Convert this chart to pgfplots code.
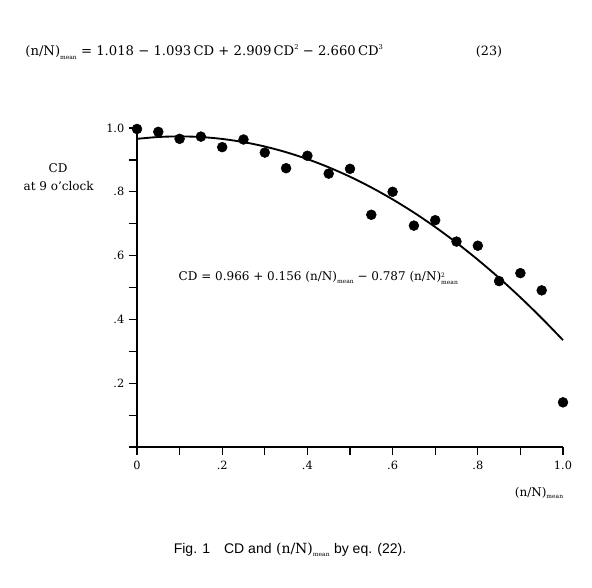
\documentclass[border=0pt]{standalone}
\usepackage{pgfplots}
\pgfplotsset{compat=1.18}
\usepackage{fontspec}
\setmainfont{DejaVu Serif}
\newfontfamily\capfont{Liberation Sans}
% tiny "mean" subscript used in the formulas
\newcommand\mean{\raisebox{-0.45ex}{\fontsize{4.5}{5}\selectfont mean}}
\newcommand\sq[1]{\raisebox{0.9ex}{\fontsize{5}{5}\selectfont #1}}
% squared term with the exponent stacked over the subscript
\newcommand\sqmean{\raisebox{-0.6ex}{\fontsize{4.5}{5.2}\selectfont\shortstack[l]{2\\mean}}}

% observed points: CD at 9 o'clock versus (n/N)_mean
\pgfplotstableread{
x     cd
0.00  0.997
0.05  0.988
0.10  0.966
0.15  0.973
0.20  0.940
0.25  0.964
0.30  0.923
0.35  0.874
0.40  0.913
0.45  0.857
0.50  0.872
0.55  0.728
0.60  0.800
0.65  0.694
0.70  0.711
0.75  0.644
0.80  0.631
0.85  0.520
0.90  0.545
0.95  0.491
1.00  0.140
}\obs

% fitted curve CD = 0.966 + 0.156 r - 0.787 r^2, tabulated
\pgfplotstableread{
x     cd
0.00  0.9660
0.05  0.9718
0.10  0.9737
0.15  0.9717
0.20  0.9657
0.25  0.9558
0.30  0.9420
0.35  0.9242
0.40  0.9025
0.45  0.8768
0.50  0.8473
0.55  0.8137
0.60  0.7763
0.65  0.7349
0.70  0.6896
0.75  0.6403
0.80  0.5871
0.85  0.5300
0.90  0.4689
0.95  0.4039
1.00  0.3350
}\fit

\begin{document}
\begin{tikzpicture}
\path[use as bounding box] (0,0) rectangle (444pt,440.25pt);
\begin{axis}[
  at={(102.75pt,105pt)}, anchor=south west,
  scale only axis, width=319.5pt, height=239.25pt,
  xmin=0, xmax=1, ymin=0, ymax=1,
  clip=false,
  axis x line*=bottom, axis y line*=left,
  axis line style={line width=1.1pt},
  xtick={0,0.2,0.4,0.6,0.8,1},
  xticklabels={0,.2,.4,.6,.8,1.0},
  minor xtick={0.1,0.3,0.5,0.7,0.9},
  ytick={0,0.2,0.4,0.6,0.8,1},
  yticklabels={,.2,.4,.6,.8,1.0},
  minor ytick={0.1,0.3,0.5,0.7,0.9},
  tick align=outside,
  major tick length=6pt, minor tick length=6pt,
  every tick/.style={black, line width=0.9pt},
  tick label style={font=\fontsize{8.5}{10}\selectfont},
  xticklabel style={yshift=-1pt},
]
\addplot[black, line width=1.4pt, smooth] table[x=x, y=cd] {\fit};
\addplot[only marks, mark=*, mark size=3.7pt, black] table[x=x, y=cd] {\obs};
\end{axis}

% formula above the figure
\node[anchor=west, font=\fontsize{9.9}{12}\selectfont] at (15.5pt,401.25pt)
  {(n/N)\mean\ = 1.018 − 1.093\,CD + 2.909\,CD\sq{2} − 2.660\,CD\sq{3}};
\node[font=\fontsize{9.6}{12}\selectfont] at (366.75pt,401.25pt) {(23)};

% y-axis title
\node[font=\fontsize{9}{11}\selectfont] at (43.5pt,314.25pt) {CD};
\node[font=\fontsize{9}{11}\selectfont] at (44pt,300.75pt) {at 9 o'clock};

% fitted equation inside the plot
\node[anchor=west, font=\fontsize{9}{11}\selectfont] at (130.5pt,231.75pt)
  {CD = 0.966 + 0.156 (n/N)\mean\ − 0.787 (n/N)\sqmean};

% x-axis title
\node[font=\fontsize{9}{12}\selectfont] at (404.25pt,70.5pt) {(n/N)\mean};

% caption
\node[font=\fontsize{10.5}{12}\selectfont] at (217.5pt,27.75pt)
  {{\capfont Fig. 1\quad CD and} (n/N)\mean\ {\capfont by eq. (22).}};
\end{tikzpicture}
\end{document}
